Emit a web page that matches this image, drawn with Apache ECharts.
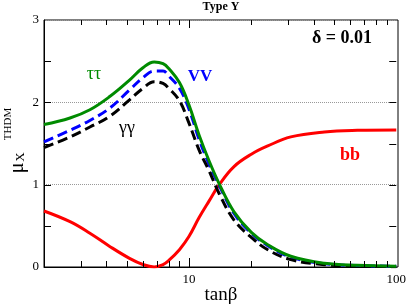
<!DOCTYPE html>
<html>
<head>
<meta charset="utf-8">
<script src="https://cdn.jsdelivr.net/npm/echarts@6/dist/echarts.min.js"></script>
<style>html,body{margin:0;padding:0;background:#fff;}#c{width:409px;height:305px;}</style>
</head>
<body>
<div id="c"></div>
<script>
var tanBeta = [2, 2.67, 3.33, 4.15, 5.17, 6.0, 6.8, 7.5, 8.0, 9.0, 10, 11.2, 12.5, 14, 16.5, 20, 24, 31, 45, 65, 100];
var tautau = [1.73, 1.81, 1.91, 2.07, 2.27, 2.42, 2.49, 2.47, 2.41, 2.24, 1.97, 1.60, 1.29, 1.01, 0.67, 0.42, 0.27, 0.13, 0.045, 0.02, 0.01];
var VV     = [1.52, 1.66, 1.78, 1.93, 2.15, 2.30, 2.38, 2.38, 2.32, 2.17, 1.92, 1.55, 1.25, 0.99, 0.65, 0.41, 0.26, 0.12, 0.04, 0.018, 0.008];
var gamgam = [1.45, 1.58, 1.70, 1.83, 2.03, 2.17, 2.25, 2.23, 2.17, 2.02, 1.75, 1.42, 1.17, 0.89, 0.57, 0.36, 0.21, 0.09, 0.028, 0.01, 0.004];
var bb     = [0.68, 0.55, 0.41, 0.25, 0.105, 0.03, 0.0, 0.03, 0.08, 0.21, 0.37, 0.60, 0.80, 1.0, 1.22, 1.37, 1.47, 1.58, 1.64, 1.66, 1.665];
var xMinorTicks = [3,4,5,6,7,8,9,20,30,40,50,60,70,80,90];
var xMajorTicks = [10];
var xTickLabels = [10, 100];
var yTickVals = [0.5, 1, 1.5, 2, 2.5];

function pairs(ys){ return tanBeta.map(function(x,i){ return [x, ys[i]]; }); }
var serif = 'Liberation Serif';
var chart = echarts.init(document.getElementById('c'));

function crisp(v){ return Math.round(v) + 0.5; }
function tickLine(x1,y1,x2,y2){
  return {type:'line', shape:{x1:x1,y1:y1,x2:x2,y2:y2}, style:{stroke:'#000', lineWidth:1}};
}
// x ticks: top and bottom, drawn inward, through the x scale
function xTickSeries(vals, lenBottom, lenTop){
  return {type:'custom', silent:true, clip:false, z:5,
    data: vals.map(function(v){ return [v, 0]; }),
    renderItem:function(params, api){
      var b = api.coord([api.value(0), 0]);
      var t = api.coord([api.value(0), 3]);
      var x = crisp(b[0]);
      return {type:'group', children:[
        tickLine(x, b[1], x, b[1]-lenBottom),
        tickLine(x, t[1], x, t[1]+lenTop)
      ]};
    }};
}
// y ticks: left and right, drawn inward, through the y scale
function yTickSeries(vals, len){
  return {type:'custom', silent:true, clip:false, z:5,
    data: vals.map(function(v){ return [2, v]; }),
    renderItem:function(params, api){
      var l = api.coord([2, api.value(1)]);
      var r = api.coord([100, api.value(1)]);
      var y = crisp(l[1]);
      return {type:'group', children:[
        tickLine(l[0], y, l[0]+len, y),
        tickLine(r[0], y, r[0]-len, y)
      ]};
    }};
}

chart.setOption({
  animation:false,
  grid:{left:44, right:11, top:20, bottom:38},
  xAxis:[{
    type:'log', logBase:10, min:2, max:100, position:'bottom',
    axisLine:{show:true, lineStyle:{color:'#000', width:1}},
    axisTick:{show:false},
    axisLabel:{show:true, customValues:xTickLabels, fontFamily:serif, fontSize:13, color:'#000', margin:6},
    splitLine:{show:false}
  }],
  yAxis:[{
    type:'value', min:0, max:3, interval:1, position:'left',
    axisLine:{show:true, lineStyle:{color:'#000', width:1}},
    axisTick:{show:false},
    axisLabel:{show:true, fontFamily:serif, fontSize:13, color:'#000', margin:5},
    splitLine:{show:true, lineStyle:{color:'#999', type:'dotted', width:1}}
  }],
  graphic:[
    {type:'rect', shape:{x:44, y:20, width:354, height:247}, style:{fill:'none', stroke:'#000', lineWidth:1}, silent:true, z:-1},
    {type:'text', x:221, y:7, style:{text:'Type Y', fontFamily:serif, fontWeight:'bold', fontSize:12, fill:'#000', align:'center', verticalAlign:'middle'}},
    {type:'text', x:342, y:38, style:{text:'δ = 0.01', fontFamily:serif, fontWeight:'bold', fontSize:18, fill:'#000', align:'center', verticalAlign:'middle'}},
    {type:'text', x:94, y:74, style:{text:'ττ', fontFamily:serif, fontSize:18, fill:'#008b00', align:'center', verticalAlign:'middle'}},
    {type:'text', x:200, y:77, style:{text:'VV', fontFamily:serif, fontWeight:'bold', fontSize:17, fill:'#0000ff', align:'center', verticalAlign:'middle'}},
    {type:'text', x:127, y:128, style:{text:'γγ', fontFamily:serif, fontSize:18, fill:'#000', align:'center', verticalAlign:'middle'}},
    {type:'text', x:350, y:155, style:{text:'bb', fontFamily:serif, fontWeight:'bold', fontSize:18, fill:'#ff0000', align:'center', verticalAlign:'middle'}},
    {type:'text', x:221, y:295, style:{text:'tanβ', fontFamily:serif, fontSize:19, fill:'#000', align:'center', verticalAlign:'middle'}},
    {type:'text', x:18, y:168, rotation:Math.PI/2, style:{text:'μ', fontFamily:serif, fontSize:20, fill:'#000', align:'center', verticalAlign:'middle'}},
    {type:'text', x:21, y:157, rotation:Math.PI/2, style:{text:'X', fontFamily:serif, fontSize:13, fill:'#000', align:'center', verticalAlign:'middle'}},
    {type:'text', x:8, y:124, rotation:Math.PI/2, style:{text:'THDM', fontFamily:serif, fontSize:11, fill:'#000', align:'center', verticalAlign:'middle'}}
  ],
  series:[
    {type:'line', data:pairs(bb), smooth:0.4, showSymbol:false, lineStyle:{color:'#ff0000', width:3}},
    {type:'line', data:pairs(VV), smooth:0.4, showSymbol:false, lineStyle:{color:'#0000ff', width:3, type:[10,5]}},
    {type:'line', data:pairs(gamgam), smooth:0.4, showSymbol:false, lineStyle:{color:'#000000', width:3, type:[10,5]}},
    {type:'line', data:pairs(tautau), smooth:0.4, showSymbol:false, lineStyle:{color:'#008b00', width:3}},
    xTickSeries(xMinorTicks, 6, 5),
    xTickSeries(xMajorTicks, 9, 8),
    yTickSeries(yTickVals, 7)
  ]
});
</script>
</body>
</html>
